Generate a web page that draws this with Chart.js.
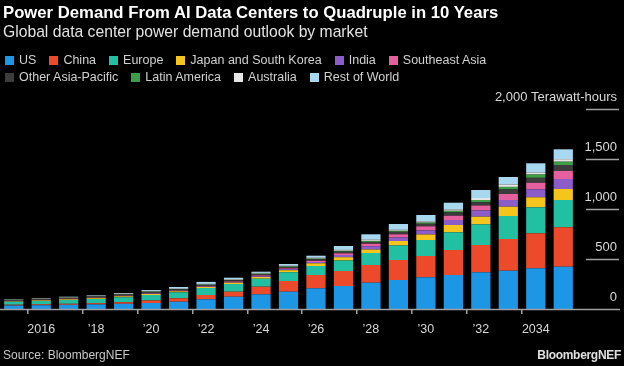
<!DOCTYPE html>
<html>
<head>
<meta charset="utf-8">
<script src="https://cdn.jsdelivr.net/npm/chart.js@4"></script>
<style>
  html, body { margin: 0; padding: 0; background: #000; }
  body { width: 624px; height: 366px; position: relative; overflow: hidden; font-family: "Liberation Sans", Arial, sans-serif; }
  #title { position: absolute; left: 3px; top: 3px; color: #fff; font-weight: bold; font-size: 16.7px; white-space: nowrap; }
  #subtitle { position: absolute; left: 3px; top: 23px; color: #e2e2e2; font-size: 15.7px; white-space: nowrap; }
  #legend { position: absolute; left: 5px; top: 52px; width: 560px; display: flex; flex-wrap: wrap; row-gap: 1px; }
  .li { display: flex; align-items: center; color: #d0d0d0; font-size: 12.5px; margin-right: 13px; height: 16px; white-space: nowrap; }
  .sw { width: 9px; height: 9px; margin-right: 5px; }
  #wrap { position: absolute; left: 0; top: 0; width: 624px; height: 366px; }
  #src { position: absolute; left: 3px; top: 348px; color: #c8c8c8; font-size: 12px; }
  #brand { position: absolute; right: 3px; top: 348px; color: #e0e0e0; font-size: 12px; font-weight: bold; letter-spacing: -0.3px; }
</style>
</head>
<body>
<div id="wrap"><canvas id="c"></canvas></div>
<div id="title">Power Demand From AI Data Centers to Quadruple in 10 Years</div>
<div id="subtitle">Global data center power demand outlook by market</div>
<div id="legend"></div>
<div id="src">Source: BloombergNEF</div>
<div id="brand">BloombergNEF</div>
<script>
const years = ['2015','2016','2017','2018','2019','2020','2021','2022','2023','2024','2025','2026','2027','2028','2029','2030','2031','2032','2033','2034','2035'];
const xTickLabels = ['','2016','','\u201918','','\u201920','','\u201922','','\u201924','','\u201926','','\u201928','','\u201930','','\u201932','','2034',''];
const yTickValues = [0, 500, 1000, 1500, 2000];
const yTickLabels = ['0', '500', '1,000', '1,500', '2,000 Terawatt-hours'];

const seriesNames = ['US','China','Europe','Japan and South Korea','India','Southeast Asia','Other Asia-Pacific','Latin America','Australia','Rest of World'];
const seriesColors = ['#1e96e6','#ec4a2b','#22c0a2','#f5c51c','#8c5cc8','#e4609e','#3c3c3c','#3e9e48','#e6e6e6','#a8d8f0'];

const us        = [35,38,42,46,52,60,73,97,123,147,173,207,230,263,290,317,340,367,383,407,423];
const china     = [8,9,10,12,16,25,34,43,50,76,107,133,150,177,200,213,250,273,317,350,395];
const europe    = [30,33,38,42,50,55,60,70,77,80,88,90,105,120,145,160,177,207,230,260,272];
const japanSK   = [5,6,7,8,9,10,10,10,13,17,20,27,33,35,45,55,73,76,93,100,110];
const india     = [2,2,2,3,3,4,4,5,6,8,10,13,22,33,35,42,50,62,67,80,100];
const seAsia    = [2,2,3,3,3,4,4,5,6,8,8,12,17,25,32,40,43,50,60,65,80];
const otherAP   = [8,9,10,11,12,14,12,12,13,14,15,16,17,18,25,25,33,33,45,50,60];
const latAm     = [2,2,2,3,3,3,3,3,3,4,5,6,8,10,10,12,16,22,26,33,33];
const australia = [3,4,5,5,6,6,5,6,6,7,7,9,9,12,10,12,14,20,24,20,25];
const restWorld = [2,2,4,4,6,9,15,20,16,12,17,20,39,54,58,64,67,80,75,92,99];

const seriesValues = [us, china, europe, japanSK, india, seAsia, otherAP, latAm, australia, restWorld];

// HTML legend
const lg = document.getElementById('legend');
seriesNames.forEach((n, i) => {
  const d = document.createElement('div'); d.className = 'li';
  const s = document.createElement('span'); s.className = 'sw'; s.style.background = seriesColors[i];
  d.appendChild(s); d.appendChild(document.createTextNode(n));
  lg.appendChild(d);
});

const decor = {
  id: 'decor',
  afterDraw(chart) {
    const ctx = chart.ctx, y = chart.scales.y;
    ctx.save();
    ctx.strokeStyle = '#a0a0a0';
    ctx.lineWidth = 1.5;
    ctx.fillStyle = '#d8d8d8';
    ctx.font = '13px "Liberation Sans", Arial, sans-serif';
    ctx.textAlign = 'right';
    ctx.textBaseline = 'middle';
    yTickValues.forEach((v, i) => {
      const py = Math.round(y.getPixelForValue(v)) + 0.5;
      ctx.beginPath();
      if (v === 0) { ctx.moveTo(0, py); ctx.lineTo(620, py); }
      else { ctx.moveTo(586, py); ctx.lineTo(619, py); }
      ctx.stroke();
      ctx.fillText(yTickLabels[i], 617, py - 12);
    });
    ctx.restore();
  }
};

new Chart(document.getElementById('c'), {
  type: 'bar',
  data: {
    labels: years,
    datasets: seriesNames.map((n, i) => ({
      label: n,
      data: seriesValues[i],
      backgroundColor: seriesColors[i],
      borderWidth: 0,
      barPercentage: 0.7,
      categoryPercentage: 1.0
    }))
  },
  options: {
    responsive: true,
    maintainAspectRatio: false,
    animation: false,
    layout: { padding: { top: 109, bottom: 21, left: 0, right: 0 } },
    plugins: { legend: { display: false }, title: { display: false }, tooltip: { enabled: false } },
    scales: {
      x: {
        stacked: true,
        grid: {
          drawOnChartArea: false,
          drawTicks: true,
          tickLength: 5,
          lineWidth: 1.5,
          color: (c) => (xTickLabels[c.index] ? '#a0a0a0' : 'rgba(0,0,0,0)')
        },
        border: { display: false },
        ticks: {
          autoSkip: false,
          maxRotation: 0,
          padding: 8,
          color: '#d8d8d8',
          font: { family: '"Liberation Sans", Arial, sans-serif', size: 12.5 },
          callback: (v, i) => xTickLabels[i]
        }
      },
      y: {
        stacked: true,
        position: 'right',
        min: 0,
        max: 2000,
        afterBuildTicks: (s) => { s.ticks = yTickValues.map(v => ({ value: v })); },
        afterFit: (s) => { s.width = 47; },
        grid: { display: false },
        border: { display: false },
        ticks: { display: false }
      }
    }
  },
  plugins: [decor]
});
</script>
</body>
</html>
